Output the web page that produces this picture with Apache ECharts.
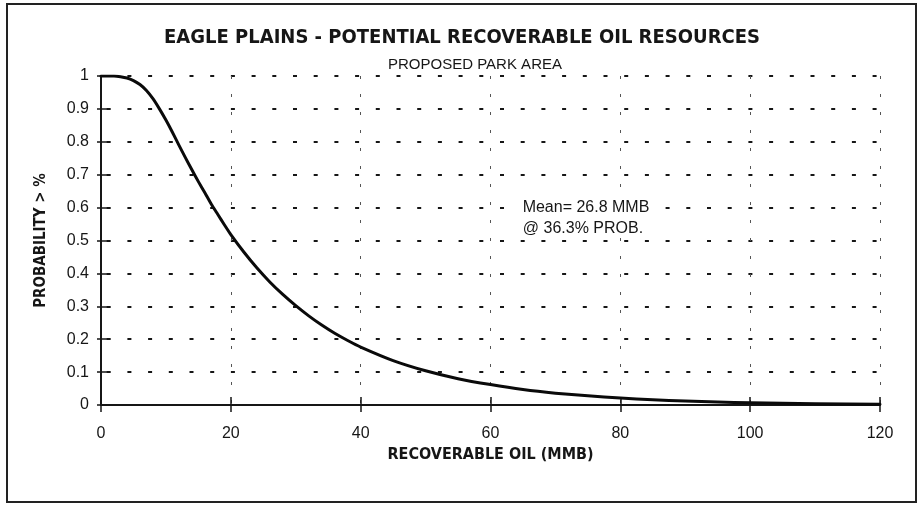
<!DOCTYPE html>
<html>
<head>
<meta charset="utf-8">
<script src="https://cdn.jsdelivr.net/npm/echarts@6/dist/echarts.min.js"></script>
<style>
html,body{margin:0;padding:0;background:#fff;}
#chart{width:924px;height:508px;}
</style>
</head>
<body>
<div id="chart"></div>
<script>
// ---- data ----
var oilMMB = [0, 2, 3, 4, 5, 6, 7, 8, 9, 10, 11, 12, 13, 14, 15, 16, 17, 18, 19, 20, 22, 24, 26, 28, 30, 32, 34, 36, 38, 40, 45, 50, 55, 60, 65, 70, 75, 80, 85, 90, 95, 100, 110, 120];
var probability = [1.0, 1.0, 0.998, 0.994, 0.986, 0.974, 0.956, 0.931, 0.900, 0.866, 0.829, 0.790, 0.752, 0.715, 0.679, 0.645, 0.61, 0.579, 0.548, 0.518, 0.465, 0.417, 0.374, 0.336, 0.302, 0.271, 0.243, 0.218, 0.196, 0.176, 0.135, 0.104, 0.08, 0.062, 0.047, 0.036, 0.028, 0.021, 0.016, 0.012, 0.009, 0.007, 0.004, 0.002];
var xTickLabels = ['0', '20', '40', '60', '80', '100', '120'];
var yTickLabels = ['0', '0.1', '0.2', '0.3', '0.4', '0.5', '0.6', '0.7', '0.8', '0.9', '1'];
var titleText = 'EAGLE PLAINS - POTENTIAL RECOVERABLE OIL RESOURCES';
var subtitleText = 'PROPOSED PARK AREA';
var xName = 'RECOVERABLE OIL (MMB)';
var yName = 'PROBABILITY > %';
var meanLines = ['Mean= 26.8 MMB', '@ 36.3% PROB.'];

var points = oilMMB.map(function (x, i) { return [x, probability[i]]; });

var ink = '#161616';
var boldFont = '"DejaVu Sans Condensed", "DejaVu Sans", sans-serif';
var regFont = '"Liberation Sans", Arial, sans-serif';

var chart = echarts.init(document.getElementById('chart'), null, {renderer: 'canvas'});
var option = {
  backgroundColor: '#ffffff',
  animation: false,
  title: [
    {
      text: titleText,
      left: 'center',
      top: 23,
      textStyle: {fontFamily: boldFont, fontWeight: 'bold', fontSize: 20, color: ink}
    }
  ],
  grid: {left: 101, right: 44, top: 76, bottom: 103, containLabel: false},
  xAxis: [
    {
      type: 'value', min: 0, max: 120, interval: 20,
      name: xName, nameLocation: 'middle', nameGap: 42,
      nameTextStyle: {fontFamily: boldFont, fontWeight: 'bold', fontSize: 16, color: ink},
      axisLine: {show: true, lineStyle: {color: ink, width: 2}},
      axisTick: {show: true, length: 7, lineStyle: {color: ink, width: 1.5}},
      axisLabel: {
        margin: 21, fontFamily: regFont, fontSize: 16, color: ink,
        formatter: function (v, i) { return xTickLabels[i]; }
      },
      splitLine: {show: true, lineStyle: {color: '#555', width: 1, type: [3, 15]}}
    },
    {
      type: 'value', min: 0, max: 120, interval: 20, position: 'bottom',
      axisLine: {show: false},
      axisTick: {show: true, inside: true, length: 8, lineStyle: {color: ink, width: 1.5}},
      axisLabel: {show: false},
      splitLine: {show: false}
    }
  ],
  yAxis: [
    {
      type: 'value', min: 0, max: 1, interval: 0.1,
      name: yName, nameLocation: 'middle', nameGap: 52, nameRotate: 90,
      nameTextStyle: {fontFamily: boldFont, fontWeight: 'bold', fontSize: 15, color: ink},
      axisLine: {show: true, lineStyle: {color: ink, width: 2}},
      axisTick: {show: true, length: 4, lineStyle: {color: ink, width: 1.5}},
      axisLabel: {
        margin: 12, fontFamily: regFont, fontSize: 16, color: ink,
        formatter: function (v, i) { return yTickLabels[i]; }
      },
      splitLine: {show: true, lineStyle: {color: ink, width: 2, type: [4, 16.7], dashOffset: 15}}
    },
    {
      type: 'value', min: 0, max: 1, interval: 0.1, position: 'left',
      axisLine: {show: false},
      axisTick: {show: true, inside: true, length: 9, lineStyle: {color: ink, width: 1.5}},
      axisLabel: {show: false},
      splitLine: {show: false}
    }
  ],
  series: [
    {
      type: 'line',
      data: points,
      smooth: 0.2,
      showSymbol: false,
      lineStyle: {color: '#0a0a0a', width: 3, cap: 'round', join: 'round'},
      z: 5
    }
  ],
  graphic: [
    {
      type: 'rect', silent: true,
      shape: {x: 7, y: 4, width: 909, height: 498},
      style: {fill: 'none', stroke: '#222', lineWidth: 2}
    },
    {
      type: 'text', silent: true, x: 475, y: 65, z: 10,
      style: {text: subtitleText, fill: ink, font: '15px ' + regFont, align: 'center', verticalAlign: 'middle',
              backgroundColor: '#ffffff', padding: [1, 3, 2, 3]}
    },
    {
      type: 'text', silent: true, x: 586, y: 208, z: 10,
      style: {text: meanLines[0], fill: ink, font: '16px ' + regFont, align: 'center', verticalAlign: 'middle',
              backgroundColor: '#ffffff', padding: [1, 4, 1, 4]}
    },
    {
      type: 'text', silent: true, x: 583, y: 229, z: 10,
      style: {text: meanLines[1], fill: ink, font: '16px ' + regFont, align: 'center', verticalAlign: 'middle',
              backgroundColor: '#ffffff', padding: [1, 4, 1, 4]}
    }
  ]
};
chart.setOption(option);
</script>
</body>
</html>
